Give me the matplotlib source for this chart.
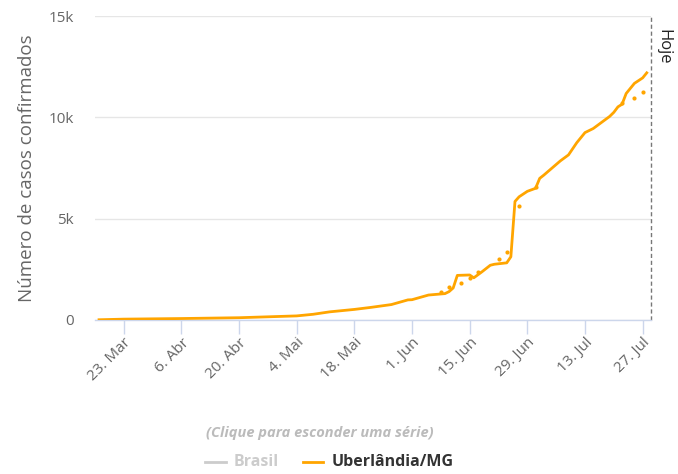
import pandas as pd
import matplotlib
matplotlib.use("Agg")
import matplotlib.pyplot as plt
from matplotlib.lines import Line2D

plt.rcParams['font.family'] = ['Open Sans', 'DejaVu Sans']

# casos confirmados - Uberlandia/MG
datas = ['2020-03-17', '2020-03-23', '2020-04-06', '2020-04-20', '2020-05-04',
         '2020-05-08', '2020-05-12', '2020-05-18', '2020-05-22', '2020-05-27',
         '2020-05-31', '2020-06-01', '2020-06-05', '2020-06-09', '2020-06-10',
         '2020-06-11', '2020-06-12', '2020-06-15', '2020-06-16', '2020-06-18',
         '2020-06-20', '2020-06-21', '2020-06-24', '2020-06-25', '2020-06-26',
         '2020-06-27', '2020-06-29', '2020-07-01', '2020-07-02', '2020-07-03',
         '2020-07-05', '2020-07-07', '2020-07-09', '2020-07-11', '2020-07-13',
         '2020-07-15', '2020-07-17', '2020-07-19', '2020-07-20', '2020-07-21',
         '2020-07-22', '2020-07-23', '2020-07-25', '2020-07-27', '2020-07-28']
casos = [10, 40, 70, 110, 200,
         280, 400, 520, 620, 760,
         990, 1000, 1230, 1300, 1400,
         1580, 2200, 2220, 2080, 2380,
         2700, 2750, 2820, 3120, 5850,
         6080, 6350, 6500, 6990, 7150,
         7500, 7850, 8150, 8750, 9250,
         9450, 9750, 10050, 10250, 10520,
         10650, 11180, 11680, 11950, 12200]

# pontos soltos (serie pontilhada)
datas_pts = ['2020-06-08', '2020-06-10', '2020-06-13', '2020-06-15', '2020-06-17',
             '2020-06-22', '2020-06-24', '2020-06-27', '2020-07-01', '2020-07-22',
             '2020-07-25', '2020-07-27']
casos_pts = [1400, 1610, 1810, 2060, 2380,
             2990, 3370, 5620, 6580, 10690,
             10970, 11260]

ticks = ['2020-03-23', '2020-04-06', '2020-04-20', '2020-05-04', '2020-05-18',
         '2020-06-01', '2020-06-15', '2020-06-29', '2020-07-13', '2020-07-27']
tick_labels = ['23. Mar', '6. Abr', '20. Abr', '4. Mai', '18. Mai',
               '1. Jun', '15. Jun', '29. Jun', '13. Jul', '27. Jul']
hoje = '2020-07-29'

laranja = '#ffa500'
cinza = '#666666'
eixo = '#ccd6eb'

x = pd.to_datetime(datas)
xp = pd.to_datetime(datas_pts)

fig = plt.figure(figsize=(6.78, 4.74), dpi=100)
ax = fig.add_axes([0.140, 0.325, 0.820, 0.641])

ax.plot(x, casos, color=laranja, lw=2.0, solid_joinstyle='round', zorder=3)
ax.scatter(xp, casos_pts, s=9, color=laranja, zorder=3, linewidths=0)
ax.axvline(pd.Timestamp(hoje), color='#777777', lw=1.0, ls=(0, (3, 2)),
           zorder=2, clip_on=False)
ax.text(pd.Timestamp(hoje) + pd.Timedelta(days=1.2), 14350, 'Hoje', rotation=270,
        ha='left', va='top', fontsize=12, color='#222222')

ax.set_xlim(pd.Timestamp('2020-03-16'), pd.Timestamp(hoje))
ax.set_ylim(0, 15000)
ax.set_yticks([0, 5000, 10000, 15000])
ax.set_yticklabels(['0', '5k', '10k', '15k'])
ax.set_xticks(pd.to_datetime(ticks))
ax.set_xticklabels(tick_labels, rotation=45, ha='right', rotation_mode='anchor')

ax.grid(axis='y', color='#e6e6e6', lw=1)
ax.set_axisbelow(True)
for s in ['top', 'right', 'left']:
    ax.spines[s].set_visible(False)
ax.spines['bottom'].set_color(eixo)
ax.spines['bottom'].set_linewidth(1)
ax.tick_params(axis='y', length=0, pad=15, labelsize=11, labelcolor=cinza)
ax.tick_params(axis='x', length=10, width=1, color=eixo, pad=1, labelsize=11, labelcolor=cinza)

ax.set_ylabel('Número de casos confirmados', fontsize=13.5, color=cinza, labelpad=9)

# legenda
fig.text(0.472, 0.086, '(Clique para esconder uma série)', ha='center', va='center',
         fontsize=10.5, style='italic', weight='bold', color='#bbbbbb')
fig.lines.append(Line2D([0.303, 0.333], [0.025, 0.025], transform=fig.transFigure,
                        color='#cccccc', lw=2))
fig.text(0.345, 0.025, 'Brasil', ha='left', va='center', fontsize=11.5,
         weight='bold', color='#cccccc')
fig.lines.append(Line2D([0.447, 0.477], [0.025, 0.025], transform=fig.transFigure,
                        color=laranja, lw=2))
fig.text(0.489, 0.025, 'Uberlândia/MG', ha='left', va='center', fontsize=11.5,
         weight='bold', color='#333333')

fig.savefig('out.png', dpi=100)
